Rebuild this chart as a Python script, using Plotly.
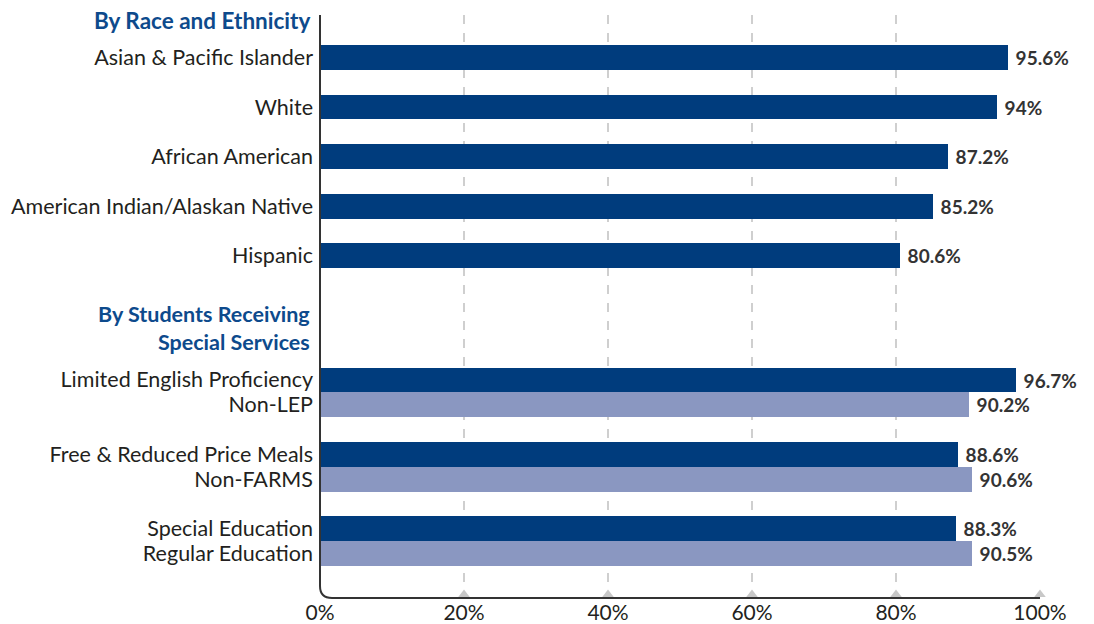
import plotly.graph_objects as go

# ---- data ----
race_cats = ["Asian & Pacific Islander", "White", "African American",
             "American Indian/Alaskan Native", "Hispanic"]
race_vals = [95.6, 94, 87.2, 85.2, 80.6]

svc_cats = ["Limited English Proficiency", "Free & Reduced Price Meals", "Special Education"]
svc_vals = [96.7, 88.6, 88.3]

cmp_cats = ["Non-LEP", "Non-FARMS", "Regular Education"]
cmp_vals = [90.2, 90.6, 90.5]

x_ticks = [0, 20, 40, 60, 80, 100]
x_ticktext = ["0%", "20%", "40%", "60%", "80%", "100%"]

header1 = "By Race and Ethnicity"
header2 = "By Students Receiving<br>Special Services"

DARK = "#003c7d"
LIGHT = "#8a97c1"
TXT = "#231f20"
HEAD = "#0d4a8c"
FONT = "Lato"

# category order with spacer slots
order = []
for i, c in enumerate(race_cats):
    order.append(c)
    if i < len(race_cats) - 1:
        order.append("_sp_r%d" % i)
order += ["_sp_a", "_sp_b", "_sp_c", "_sp_d"]
for i, (a, b) in enumerate(zip(svc_cats, cmp_cats)):
    order += [a, b]
    if i < len(svc_cats) - 1:
        order.append("_sp_s%d" % i)

real_labels = race_cats + [v for pair in zip(svc_cats, cmp_cats) for v in pair]

val_font = dict(family=FONT, size=19, color="#333333", weight="bold")

fig = go.Figure()
fig.add_trace(go.Bar(
    y=race_cats + svc_cats, x=race_vals + svc_vals, orientation="h",
    marker=dict(color=DARK, line=dict(width=0)),
    texttemplate=" %{x}%", textposition="outside", cliponaxis=False,
    textfont=val_font, showlegend=False, hoverinfo="skip",
))
fig.add_trace(go.Bar(
    y=cmp_cats, x=cmp_vals, orientation="h",
    marker=dict(color=LIGHT, line=dict(width=0)),
    texttemplate=" %{x}%", textposition="outside", cliponaxis=False,
    textfont=val_font, showlegend=False, hoverinfo="skip",
))

# small triangles at gridline feet
fig.add_trace(go.Scatter(
    x=x_ticks[1:], y=[0] * (len(x_ticks) - 1), yaxis="y2", mode="markers",
    marker=dict(symbol="triangle-up", size=10, color="#c8c8c8"),
    cliponaxis=False, showlegend=False, hoverinfo="skip",
))

n = len(order)
W, H = 1094, 624
L, R, T, B = 320, 54, 15, 26
plot_h = H - T - B
fig.update_layout(
    width=W, height=H,
    margin=dict(l=L, r=R, t=T, b=B, pad=0, autoexpand=False),
    paper_bgcolor="white", plot_bgcolor="white",
    barmode="overlay", bargap=0,
    font=dict(family=FONT, size=20, color=TXT),
    xaxis=dict(range=[0, 100], tickvals=x_ticks, ticktext=x_ticktext,
               showgrid=True, gridcolor="#cfcfcf", griddash="dash", gridwidth=1.5,
               zeroline=False, showline=False, ticks="", automargin=False,
               tickfont=dict(family=FONT, size=21, color=TXT),
               ticklabelstandoff=0),
    yaxis=dict(type="category", categoryorder="array", categoryarray=order,
               range=[n - 1 + 1.79, -1.71],
               tickvals=real_labels, ticktext=real_labels, automargin=False,
               showgrid=False, zeroline=False, showline=False, ticks="",
               tickfont=dict(family=FONT, size=21.5, color=TXT),
               ticklabelstandoff=6),
    yaxis2=dict(overlaying="y", range=[-0.006, 1], visible=False),
)

# axis lines with rounded corner (paper coords)
pw = W - L - R
rx, ry = 12 / pw, 12 / plot_h
fig.add_shape(type="path", xref="paper", yref="paper",
              path=f"M 0 1 L 0 {ry} Q 0 0 {rx} 0 L 1 0",
              line=dict(color="#333333", width=2))

def header(text, ypix, size):
    fig.add_annotation(text="<b>%s</b>" % text, xref="paper", yref="paper",
                       x=0, y=1 - (ypix - T) / plot_h, xanchor="right", yanchor="middle",
                       xshift=-8, showarrow=False, align="right",
                       font=dict(family=FONT, size=size, color=HEAD))

header(header1, 20, 22.5)
header(header2, 327.5, 21.5)

fig.write_html("out.html")
